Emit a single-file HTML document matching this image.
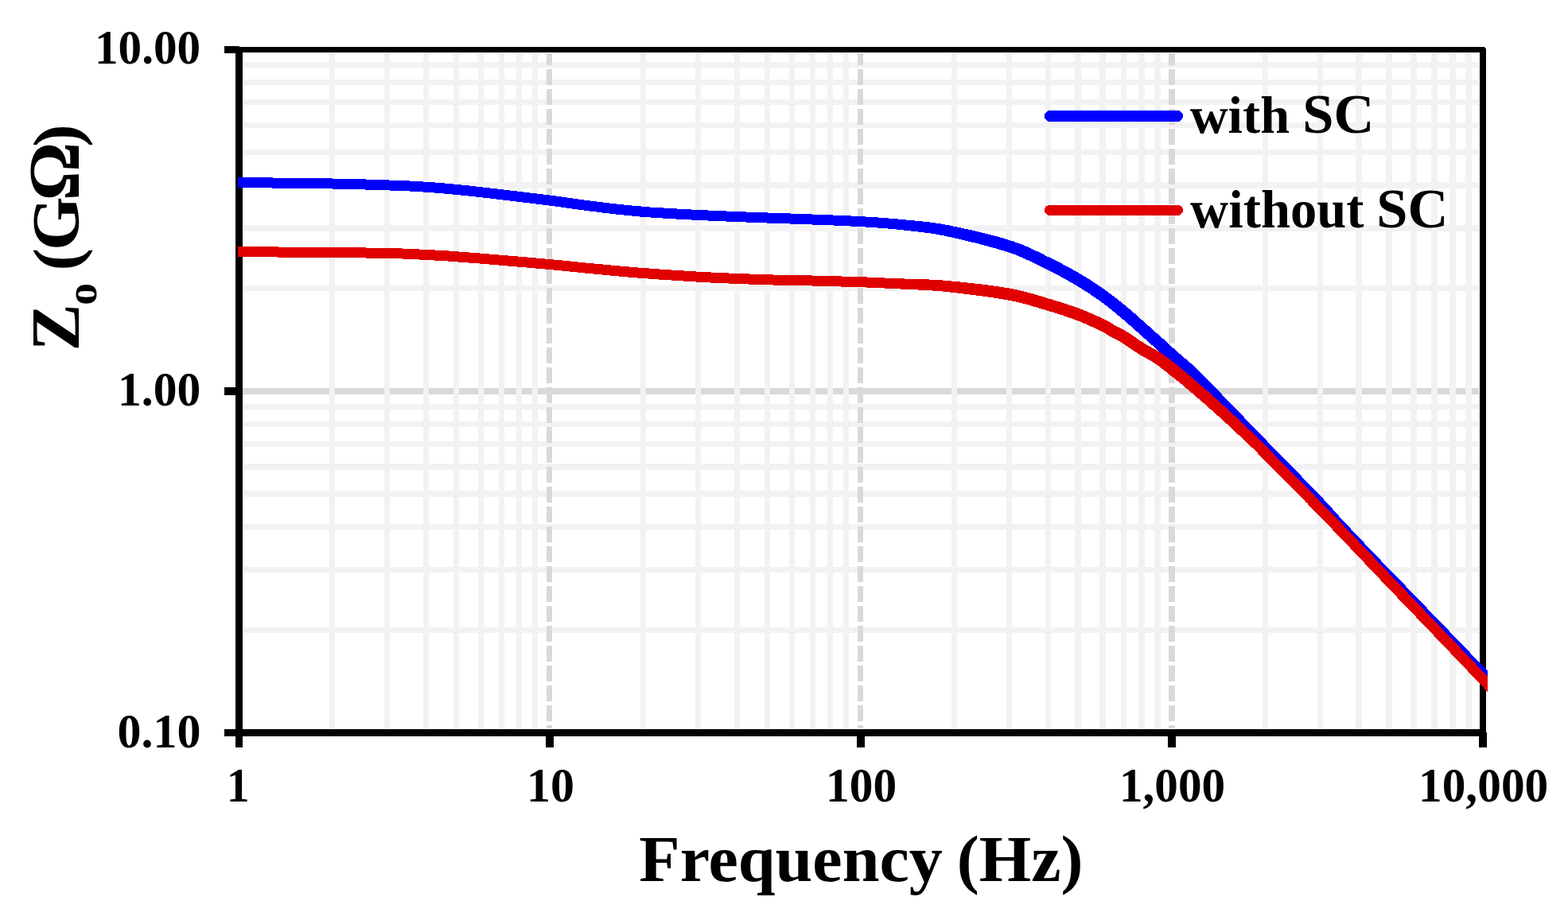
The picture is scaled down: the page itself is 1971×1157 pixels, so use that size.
<!DOCTYPE html>
<html lang="en"><head><meta charset="utf-8"><title>Z0 vs Frequency</title>
<style>
html,body{margin:0;padding:0;background:#fff;}
body{width:1971px;height:1157px;overflow:hidden;}
svg{display:block;}
text{font-family:"Liberation Serif","DejaVu Serif",serif;font-weight:bold;fill:#000;}
.tick{font-size:58.33px;}
.title{font-size:83.33px;}
.leg{font-size:66.67px;}
.crisp{shape-rendering:crispEdges;}
</style></head><body>
<svg width="1971" height="1157" viewBox="0 0 1971 1157">
<rect width="1971" height="1157" fill="#fff"/>
<defs><clipPath id="plotclip"><rect x="299" y="60" width="1571" height="866"/></clipPath></defs>
<g class="crisp">
<rect x="305" y="488" width="1554" height="8" fill="#d9d9d9"/>
<g fill="#f2f2f2">
<rect x="306" y="359" width="1553" height="7"/>
<rect x="306" y="283" width="1553" height="8"/>
<rect x="306" y="229" width="1553" height="8"/>
<rect x="306" y="188" width="1553" height="7"/>
<rect x="306" y="154" width="1553" height="7"/>
<rect x="306" y="125" width="1553" height="7"/>
<rect x="306" y="100" width="1553" height="7"/>
<rect x="306" y="78" width="1553" height="7"/>
<rect x="306" y="789" width="1553" height="7"/>
<rect x="306" y="713" width="1553" height="7"/>
<rect x="306" y="659" width="1553" height="7"/>
<rect x="306" y="617" width="1553" height="8"/>
<rect x="306" y="583" width="1553" height="8"/>
<rect x="306" y="555" width="1553" height="7"/>
<rect x="306" y="530" width="1553" height="7"/>
<rect x="306" y="508" width="1553" height="7"/>
<rect x="414" y="67" width="7" height="849"/>
<rect x="483" y="67" width="7" height="849"/>
<rect x="532" y="67" width="7" height="849"/>
<rect x="570" y="67" width="7" height="849"/>
<rect x="601" y="67" width="7" height="849"/>
<rect x="627" y="67" width="7" height="849"/>
<rect x="649" y="67" width="7" height="849"/>
<rect x="669" y="67" width="7" height="849"/>
<rect x="805" y="67" width="7" height="849"/>
<rect x="874" y="67" width="7" height="849"/>
<rect x="923" y="67" width="7" height="849"/>
<rect x="961" y="67" width="7" height="849"/>
<rect x="992" y="67" width="7" height="849"/>
<rect x="1018" y="67" width="7" height="849"/>
<rect x="1040" y="67" width="7" height="849"/>
<rect x="1060" y="67" width="7" height="849"/>
<rect x="1196" y="67" width="7" height="849"/>
<rect x="1265" y="67" width="7" height="849"/>
<rect x="1314" y="67" width="7" height="849"/>
<rect x="1351" y="67" width="8" height="849"/>
<rect x="1382" y="67" width="8" height="849"/>
<rect x="1409" y="67" width="7" height="849"/>
<rect x="1431" y="67" width="8" height="849"/>
<rect x="1451" y="67" width="8" height="849"/>
<rect x="1587" y="67" width="7" height="849"/>
<rect x="1656" y="67" width="7" height="849"/>
<rect x="1704" y="67" width="8" height="849"/>
<rect x="1742" y="67" width="8" height="849"/>
<rect x="1773" y="67" width="8" height="849"/>
<rect x="1799" y="67" width="8" height="849"/>
<rect x="1822" y="67" width="8" height="849"/>
<rect x="1842" y="67" width="8" height="849"/>
</g>
<g fill="#d9d9d9">
<rect x="687" y="67" width="7" height="15"/>
<rect x="687" y="87" width="7" height="20"/>
<rect x="687" y="112" width="7" height="20"/>
<rect x="687" y="137" width="7" height="20"/>
<rect x="687" y="162" width="7" height="20"/>
<rect x="687" y="187" width="7" height="20"/>
<rect x="687" y="212" width="7" height="20"/>
<rect x="687" y="237" width="7" height="20"/>
<rect x="687" y="262" width="7" height="20"/>
<rect x="687" y="287" width="7" height="20"/>
<rect x="687" y="312" width="7" height="20"/>
<rect x="687" y="337" width="7" height="20"/>
<rect x="687" y="362" width="7" height="20"/>
<rect x="687" y="387" width="7" height="20"/>
<rect x="687" y="412" width="7" height="20"/>
<rect x="687" y="437" width="7" height="20"/>
<rect x="687" y="462" width="7" height="20"/>
<rect x="687" y="487" width="7" height="20"/>
<rect x="687" y="512" width="7" height="20"/>
<rect x="687" y="537" width="7" height="20"/>
<rect x="687" y="562" width="7" height="20"/>
<rect x="687" y="587" width="7" height="20"/>
<rect x="687" y="612" width="7" height="20"/>
<rect x="687" y="637" width="7" height="20"/>
<rect x="687" y="662" width="7" height="20"/>
<rect x="687" y="687" width="7" height="20"/>
<rect x="687" y="712" width="7" height="20"/>
<rect x="687" y="737" width="7" height="20"/>
<rect x="687" y="762" width="7" height="20"/>
<rect x="687" y="787" width="7" height="20"/>
<rect x="687" y="812" width="7" height="20"/>
<rect x="687" y="837" width="7" height="20"/>
<rect x="687" y="862" width="7" height="20"/>
<rect x="687" y="887" width="7" height="20"/>
<rect x="687" y="912" width="7" height="4"/>
<rect x="1078" y="67" width="7" height="15"/>
<rect x="1078" y="87" width="7" height="20"/>
<rect x="1078" y="112" width="7" height="20"/>
<rect x="1078" y="137" width="7" height="20"/>
<rect x="1078" y="162" width="7" height="20"/>
<rect x="1078" y="187" width="7" height="20"/>
<rect x="1078" y="212" width="7" height="20"/>
<rect x="1078" y="237" width="7" height="20"/>
<rect x="1078" y="262" width="7" height="20"/>
<rect x="1078" y="287" width="7" height="20"/>
<rect x="1078" y="312" width="7" height="20"/>
<rect x="1078" y="337" width="7" height="20"/>
<rect x="1078" y="362" width="7" height="20"/>
<rect x="1078" y="387" width="7" height="20"/>
<rect x="1078" y="412" width="7" height="20"/>
<rect x="1078" y="437" width="7" height="20"/>
<rect x="1078" y="462" width="7" height="20"/>
<rect x="1078" y="487" width="7" height="20"/>
<rect x="1078" y="512" width="7" height="20"/>
<rect x="1078" y="537" width="7" height="20"/>
<rect x="1078" y="562" width="7" height="20"/>
<rect x="1078" y="587" width="7" height="20"/>
<rect x="1078" y="612" width="7" height="20"/>
<rect x="1078" y="637" width="7" height="20"/>
<rect x="1078" y="662" width="7" height="20"/>
<rect x="1078" y="687" width="7" height="20"/>
<rect x="1078" y="712" width="7" height="20"/>
<rect x="1078" y="737" width="7" height="20"/>
<rect x="1078" y="762" width="7" height="20"/>
<rect x="1078" y="787" width="7" height="20"/>
<rect x="1078" y="812" width="7" height="20"/>
<rect x="1078" y="837" width="7" height="20"/>
<rect x="1078" y="862" width="7" height="20"/>
<rect x="1078" y="887" width="7" height="20"/>
<rect x="1078" y="912" width="7" height="4"/>
<rect x="1469" y="67" width="8" height="15"/>
<rect x="1469" y="87" width="8" height="20"/>
<rect x="1469" y="112" width="8" height="20"/>
<rect x="1469" y="137" width="8" height="20"/>
<rect x="1469" y="162" width="8" height="20"/>
<rect x="1469" y="187" width="8" height="20"/>
<rect x="1469" y="212" width="8" height="20"/>
<rect x="1469" y="237" width="8" height="20"/>
<rect x="1469" y="262" width="8" height="20"/>
<rect x="1469" y="287" width="8" height="20"/>
<rect x="1469" y="312" width="8" height="20"/>
<rect x="1469" y="337" width="8" height="20"/>
<rect x="1469" y="362" width="8" height="20"/>
<rect x="1469" y="387" width="8" height="20"/>
<rect x="1469" y="412" width="8" height="20"/>
<rect x="1469" y="437" width="8" height="20"/>
<rect x="1469" y="462" width="8" height="20"/>
<rect x="1469" y="487" width="8" height="20"/>
<rect x="1469" y="512" width="8" height="20"/>
<rect x="1469" y="537" width="8" height="20"/>
<rect x="1469" y="562" width="8" height="20"/>
<rect x="1469" y="587" width="8" height="20"/>
<rect x="1469" y="612" width="8" height="20"/>
<rect x="1469" y="637" width="8" height="20"/>
<rect x="1469" y="662" width="8" height="20"/>
<rect x="1469" y="687" width="8" height="20"/>
<rect x="1469" y="712" width="8" height="20"/>
<rect x="1469" y="737" width="8" height="20"/>
<rect x="1469" y="762" width="8" height="20"/>
<rect x="1469" y="787" width="8" height="20"/>
<rect x="1469" y="812" width="8" height="20"/>
<rect x="1469" y="837" width="8" height="20"/>
<rect x="1469" y="862" width="8" height="20"/>
<rect x="1469" y="887" width="8" height="20"/>
<rect x="1469" y="912" width="8" height="4"/>
</g>
<g fill="#000">
<rect x="296" y="59" width="9" height="881"/>
<rect x="282" y="917" width="1586" height="9"/>
<rect x="296" y="59" width="1572" height="7"/>
<rect x="1860" y="59" width="8" height="867"/>
<rect x="282" y="58" width="19" height="9"/>
<rect x="282" y="487" width="14" height="10"/>
<rect x="686" y="926" width="10" height="14"/>
<rect x="1077" y="926" width="10" height="14"/>
<rect x="1468" y="926" width="10" height="14"/>
<rect x="1859" y="921" width="10" height="19"/>
</g>
</g>
<polygon points="1865.7,58.5 1868.5,58.5 1868.5,62.2" fill="#fff"/>
<g clip-path="url(#plotclip)" shape-rendering="crispEdges">
<path d="M286.9 235.9 L286.7 235.9 L285.9 222.8 L288.6 222.9 L299.1 223.0 L300.8 223.0 L302.8 223.0 L304.8 223.1 L307.1 223.1 L309.4 223.1 L311.9 223.1 L314.6 223.2 L317.3 223.2 L320.2 223.2 L323.1 223.3 L326.2 223.3 L329.3 223.3 L332.5 223.4 L335.8 223.4 L339.2 223.4 L342.6 223.5 L346.0 223.5 L349.5 223.6 L353.0 223.6 L356.5 223.6 L360.1 223.7 L363.6 223.7 L367.1 223.8 L370.7 223.8 L374.2 223.8 L377.6 223.9 L381.1 223.9 L384.5 224.0 L387.8 224.0 L391.1 224.1 L394.3 224.1 L397.4 224.1 L400.5 224.2 L403.4 224.2 L406.3 224.3 L409.0 224.3 L411.6 224.4 L414.1 224.4 L418.1 224.5 L421.9 224.5 L425.6 224.6 L429.1 224.7 L432.6 224.8 L436.0 224.9 L439.2 224.9 L442.4 225.0 L445.5 225.1 L448.5 225.2 L451.4 225.3 L454.3 225.3 L457.1 225.4 L459.9 225.5 L462.6 225.6 L465.3 225.7 L467.9 225.8 L470.6 225.9 L473.2 225.9 L475.8 226.0 L478.4 226.1 L480.9 226.2 L483.5 226.3 L487.2 226.4 L490.7 226.6 L494.0 226.7 L497.3 226.8 L500.4 226.9 L503.5 227.0 L506.5 227.1 L509.5 227.3 L512.4 227.4 L515.4 227.5 L518.3 227.7 L521.3 227.8 L524.3 228.0 L527.5 228.2 L530.6 228.4 L533.9 228.6 L536.9 228.8 L539.7 229.0 L542.5 229.2 L545.3 229.4 L548.0 229.6 L550.7 229.8 L553.5 230.1 L556.3 230.3 L559.2 230.5 L562.1 230.8 L565.1 231.1 L568.3 231.4 L571.6 231.7 L575.0 232.0 L578.6 232.4 L582.4 232.8 L586.4 233.2 L590.7 233.6 L593.1 233.9 L595.7 234.2 L598.4 234.5 L601.2 234.8 L604.0 235.1 L607.0 235.5 L610.0 235.8 L613.1 236.2 L616.3 236.5 L619.5 236.9 L622.8 237.3 L626.1 237.7 L629.5 238.1 L632.8 238.5 L636.2 238.9 L639.6 239.3 L643.0 239.7 L646.4 240.1 L649.8 240.5 L653.1 240.9 L656.5 241.3 L659.8 241.7 L663.0 242.1 L666.2 242.5 L669.3 242.8 L672.4 243.2 L675.4 243.6 L678.3 243.9 L681.1 244.3 L683.8 244.6 L686.4 244.9 L688.9 245.3 L691.3 245.6 L695.6 246.1 L699.6 246.6 L703.2 247.1 L706.6 247.6 L709.8 248.0 L712.7 248.4 L715.5 248.8 L718.1 249.2 L720.7 249.6 L723.3 250.0 L725.8 250.3 L728.3 250.7 L731.0 251.1 L733.7 251.5 L736.6 251.8 L739.7 252.2 L743.0 252.6 L745.7 253.0 L748.4 253.3 L751.2 253.6 L753.9 254.0 L756.7 254.3 L759.6 254.7 L762.4 255.0 L765.3 255.4 L768.2 255.7 L771.2 256.0 L774.2 256.4 L777.2 256.7 L780.2 257.1 L783.3 257.4 L786.4 257.7 L789.5 258.0 L792.7 258.4 L795.8 258.7 L799.1 259.0 L802.3 259.3 L805.6 259.5 L808.9 259.8 L811.7 260.0 L814.5 260.2 L817.3 260.5 L820.2 260.7 L823.1 260.9 L826.1 261.1 L829.0 261.3 L832.1 261.4 L835.1 261.6 L838.2 261.8 L841.3 262.0 L844.4 262.2 L847.5 262.3 L850.6 262.5 L853.7 262.7 L856.8 262.8 L860.0 263.0 L863.1 263.2 L866.2 263.3 L869.3 263.5 L872.4 263.6 L875.4 263.8 L878.5 263.9 L881.5 264.1 L884.5 264.2 L887.4 264.4 L890.3 264.5 L893.6 264.7 L896.8 264.8 L900.1 265.0 L903.3 265.1 L906.6 265.3 L909.8 265.4 L913.1 265.5 L916.3 265.7 L919.6 265.8 L922.8 265.9 L926.0 266.1 L929.1 266.2 L932.3 266.3 L935.4 266.4 L938.5 266.5 L941.6 266.6 L944.6 266.8 L947.6 266.9 L950.6 267.0 L953.5 267.1 L956.4 267.2 L959.3 267.3 L962.1 267.4 L964.8 267.5 L968.4 267.6 L971.9 267.8 L975.2 267.9 L978.5 268.0 L981.7 268.1 L984.8 268.2 L987.8 268.3 L990.9 268.4 L993.8 268.5 L996.8 268.6 L999.8 268.7 L1002.7 268.8 L1005.7 268.9 L1008.7 269.0 L1011.7 269.1 L1014.8 269.3 L1017.9 269.4 L1021.2 269.5 L1024.1 269.6 L1027.1 269.7 L1030.1 269.8 L1033.1 270.0 L1036.2 270.1 L1039.3 270.2 L1042.4 270.3 L1045.5 270.4 L1048.6 270.6 L1051.7 270.7 L1054.8 270.8 L1057.9 270.9 L1061.0 271.1 L1064.1 271.2 L1067.2 271.3 L1070.2 271.5 L1073.2 271.6 L1076.1 271.8 L1079.0 271.9 L1081.9 272.1 L1085.2 272.3 L1088.4 272.5 L1091.5 272.7 L1094.6 272.9 L1097.7 273.1 L1100.7 273.3 L1103.8 273.5 L1106.7 273.7 L1109.7 273.9 L1112.7 274.2 L1115.7 274.4 L1118.7 274.7 L1121.7 274.9 L1124.8 275.2 L1127.9 275.4 L1131.0 275.7 L1134.2 276.0 L1137.2 276.3 L1140.1 276.6 L1143.1 276.9 L1146.0 277.1 L1148.9 277.4 L1151.9 277.7 L1154.8 277.9 L1157.8 278.2 L1160.9 278.6 L1164.0 278.9 L1167.1 279.3 L1170.3 279.7 L1173.6 280.1 L1177.0 280.6 L1180.4 281.2 L1184.0 281.7 L1187.6 282.4 L1191.4 283.1 L1194.1 283.6 L1196.8 284.2 L1199.7 284.8 L1202.7 285.4 L1205.7 286.0 L1208.8 286.7 L1211.9 287.4 L1215.1 288.1 L1218.3 288.8 L1221.6 289.5 L1224.8 290.3 L1228.1 291.0 L1231.4 291.8 L1234.7 292.6 L1238.0 293.4 L1241.2 294.2 L1244.5 295.1 L1247.7 295.9 L1250.8 296.7 L1253.9 297.5 L1256.9 298.4 L1259.8 299.2 L1262.7 300.1 L1265.5 300.9 L1268.1 301.7 L1270.7 302.6 L1274.5 303.8 L1278.2 305.1 L1281.6 306.4 L1285.0 307.7 L1288.2 309.1 L1291.4 310.4 L1294.4 311.7 L1297.3 313.1 L1300.1 314.4 L1302.9 315.7 L1305.5 317.0 L1308.2 318.3 L1310.7 319.6 L1313.3 320.9 L1315.8 322.2 L1318.3 323.4 L1320.8 324.6 L1323.9 326.1 L1326.9 327.6 L1329.8 329.1 L1332.7 330.6 L1335.5 332.0 L1338.3 333.5 L1341.0 334.9 L1343.7 336.3 L1346.3 337.8 L1348.9 339.2 L1351.4 340.7 L1353.9 342.1 L1356.4 343.5 L1358.9 345.0 L1361.8 346.7 L1364.6 348.4 L1367.4 350.1 L1370.1 351.8 L1372.8 353.5 L1375.4 355.2 L1378.0 357.0 L1380.5 358.7 L1383.0 360.4 L1385.5 362.1 L1388.0 363.8 L1390.4 365.6 L1393.1 367.5 L1395.7 369.4 L1398.2 371.3 L1400.8 373.3 L1403.2 375.2 L1405.7 377.2 L1408.1 379.1 L1410.5 381.0 L1412.8 382.9 L1415.1 384.8 L1417.3 386.7 L1419.8 388.7 L1422.2 390.8 L1424.6 392.9 L1427.0 394.9 L1429.2 396.9 L1431.5 398.9 L1433.7 400.9 L1435.9 402.8 L1438.0 404.7 L1440.1 406.6 L1442.8 408.9 L1445.4 411.2 L1447.9 413.5 L1450.4 415.7 L1452.9 418.0 L1455.4 420.1 L1457.8 422.3 L1460.2 424.5 L1462.5 426.5 L1464.7 428.5 L1466.8 430.4 L1468.8 432.3 L1471.0 434.3 L1473.2 436.3 L1475.6 438.5 L1478.2 440.8 L1480.1 442.4 L1481.9 444.1 L1483.9 445.8 L1485.9 447.5 L1488.0 449.3 L1490.2 451.1 L1492.5 453.1 L1494.9 455.2 L1497.4 457.4 L1500.0 459.7 L1502.6 462.2 L1505.4 464.8 L1507.3 466.7 L1509.3 468.7 L1511.4 470.7 L1513.5 472.8 L1515.6 475.0 L1517.8 477.3 L1520.1 479.5 L1522.3 481.9 L1524.6 484.2 L1526.9 486.6 L1529.2 489.0 L1531.5 491.4 L1533.8 493.8 L1536.2 496.2 L1538.5 498.6 L1540.7 501.0 L1543.0 503.3 L1545.2 505.6 L1547.3 507.8 L1549.4 509.9 L1551.5 512.1 L1553.6 514.3 L1555.7 516.4 L1557.8 518.6 L1559.9 520.8 L1562.0 523.0 L1564.1 525.1 L1566.2 527.3 L1568.3 529.5 L1570.4 531.7 L1572.5 533.9 L1574.6 536.0 L1576.7 538.2 L1578.8 540.4 L1580.9 542.6 L1583.0 544.7 L1585.1 546.9 L1587.2 549.1 L1589.3 551.2 L1591.5 553.4 L1593.6 555.6 L1595.7 557.8 L1597.9 560.0 L1600.0 562.2 L1602.1 564.4 L1604.3 566.6 L1606.4 568.8 L1608.5 571.0 L1610.7 573.1 L1612.8 575.3 L1614.9 577.4 L1617.0 579.5 L1619.0 581.7 L1621.1 583.8 L1623.1 585.8 L1625.1 587.9 L1627.4 590.2 L1629.6 592.4 L1631.8 594.7 L1634.0 596.9 L1636.2 599.2 L1638.3 601.4 L1640.5 603.6 L1642.7 605.8 L1644.8 607.9 L1646.9 610.1 L1649.0 612.2 L1651.0 614.4 L1653.1 616.5 L1655.1 618.5 L1657.0 620.6 L1659.0 622.6 L1660.9 624.7 L1663.3 627.2 L1665.5 629.6 L1667.6 631.9 L1669.7 634.1 L1671.6 636.3 L1673.5 638.4 L1675.5 640.6 L1677.4 642.8 L1679.5 645.1 L1681.6 647.5 L1683.9 650.0 L1686.4 652.7 L1689.1 655.6 L1690.8 657.4 L1692.6 659.3 L1694.5 661.3 L1696.4 663.3 L1698.4 665.4 L1700.4 667.6 L1702.5 669.8 L1704.6 672.0 L1706.7 674.3 L1708.9 676.5 L1711.1 678.8 L1713.3 681.2 L1715.5 683.5 L1717.7 685.8 L1719.9 688.2 L1722.1 690.5 L1724.3 692.8 L1726.5 695.1 L1728.7 697.3 L1730.8 699.6 L1732.9 701.8 L1735.0 703.9 L1737.0 706.1 L1739.0 708.1 L1740.9 710.1 L1742.7 712.0 L1744.4 713.8 L1746.1 715.5 L1747.8 717.3 L1749.5 719.0 L1751.2 720.7 L1752.9 722.5 L1754.7 724.3 L1756.5 726.2 L1758.4 728.2 L1760.4 730.3 L1762.6 732.5 L1764.8 734.8 L1767.3 737.3 L1769.9 740.0 L1772.6 742.9 L1775.6 746.0 L1778.9 749.3 L1780.4 750.9 L1782.1 752.6 L1783.8 754.4 L1785.6 756.3 L1787.5 758.3 L1789.4 760.3 L1791.4 762.4 L1793.5 764.5 L1795.6 766.7 L1797.8 769.0 L1800.0 771.3 L1802.3 773.6 L1804.6 776.0 L1806.9 778.4 L1809.3 780.9 L1811.7 783.4 L1814.1 785.9 L1816.6 788.4 L1819.0 791.0 L1821.5 793.5 L1823.9 796.1 L1826.4 798.6 L1828.9 801.2 L1831.3 803.7 L1833.7 806.3 L1836.2 808.8 L1838.6 811.3 L1841.0 813.7 L1843.3 816.2 L1845.6 818.6 L1847.9 820.9 L1850.2 823.3 L1852.3 825.6 L1854.5 827.8 L1856.6 830.0 L1858.6 832.1 L1860.6 834.1 L1862.5 836.1 L1864.3 838.0 L1866.1 839.8 L1867.8 841.6 L1869.4 843.2 L1870.9 844.8 L1872.3 846.3 L1873.6 847.6 L1874.9 848.9 L1882.8 857.2 L1886.3 860.8 L1887.0 861.5 L1876.9 870.4 L1886.9 861.4 L1877.1 870.7 L1886.6 861.1 L1877.2 870.8 L1876.6 870.1 L1873.1 866.6 L1865.1 858.3 L1863.9 857.0 L1862.6 855.6 L1861.2 854.2 L1859.7 852.6 L1858.1 850.9 L1856.4 849.2 L1854.6 847.4 L1852.8 845.5 L1850.9 843.5 L1848.9 841.4 L1846.9 839.3 L1844.8 837.1 L1842.6 834.9 L1840.4 832.6 L1838.2 830.3 L1835.9 827.9 L1833.6 825.5 L1831.2 823.1 L1828.9 820.6 L1826.5 818.1 L1824.0 815.6 L1821.6 813.1 L1819.1 810.5 L1816.7 808.0 L1814.2 805.4 L1811.7 802.9 L1809.3 800.3 L1806.8 797.8 L1804.4 795.3 L1802.0 792.8 L1799.6 790.3 L1797.2 787.8 L1794.9 785.4 L1792.6 783.0 L1790.3 780.6 L1788.1 778.3 L1785.9 776.1 L1783.8 773.9 L1781.7 771.7 L1779.7 769.6 L1777.8 767.6 L1775.9 765.7 L1774.1 763.8 L1772.4 762.0 L1770.7 760.3 L1769.1 758.7 L1765.9 755.4 L1762.9 752.3 L1760.2 749.4 L1757.6 746.7 L1755.1 744.2 L1752.9 741.9 L1750.7 739.7 L1748.7 737.6 L1746.8 735.6 L1745.0 733.7 L1743.2 731.9 L1741.5 730.1 L1739.8 728.4 L1738.1 726.6 L1736.4 724.9 L1734.7 723.1 L1733.0 721.3 L1731.2 719.4 L1729.3 717.5 L1727.3 715.4 L1725.2 713.3 L1723.2 711.1 L1721.1 708.9 L1718.9 706.7 L1716.8 704.4 L1714.6 702.1 L1712.4 699.8 L1710.1 697.5 L1707.9 695.1 L1705.7 692.8 L1703.5 690.5 L1701.3 688.1 L1699.1 685.8 L1696.9 683.5 L1694.8 681.3 L1692.7 679.0 L1690.6 676.9 L1688.6 674.7 L1686.6 672.6 L1684.7 670.6 L1682.8 668.6 L1681.0 666.7 L1679.3 664.8 L1676.5 661.9 L1674.0 659.1 L1671.6 656.5 L1669.5 654.1 L1667.4 651.8 L1665.4 649.6 L1663.5 647.5 L1661.6 645.3 L1659.6 643.2 L1657.7 641.0 L1655.6 638.8 L1653.4 636.4 L1651.1 633.9 L1649.2 632.0 L1647.3 629.9 L1645.3 627.9 L1643.4 625.8 L1641.3 623.8 L1639.3 621.7 L1637.2 619.5 L1635.1 617.4 L1633.0 615.2 L1630.9 613.0 L1628.7 610.8 L1626.5 608.6 L1624.3 606.4 L1622.1 604.1 L1619.9 601.9 L1617.7 599.6 L1615.5 597.3 L1613.5 595.3 L1611.4 593.2 L1609.4 591.1 L1607.3 589.0 L1605.2 586.9 L1603.1 584.7 L1601.0 582.6 L1598.9 580.4 L1596.8 578.2 L1594.6 576.1 L1592.5 573.9 L1590.3 571.7 L1588.2 569.5 L1586.0 567.4 L1583.8 565.2 L1581.7 563.0 L1579.5 560.8 L1577.4 558.7 L1575.3 556.5 L1573.2 554.4 L1571.0 552.2 L1568.9 550.0 L1566.8 547.9 L1564.7 545.7 L1562.5 543.6 L1560.4 541.4 L1558.3 539.2 L1556.2 537.1 L1554.0 534.9 L1551.9 532.8 L1549.8 530.6 L1547.7 528.5 L1545.6 526.3 L1543.5 524.2 L1541.3 522.0 L1539.2 519.9 L1537.1 517.7 L1535.0 515.6 L1532.7 513.3 L1530.5 511.0 L1528.2 508.6 L1525.8 506.3 L1523.5 503.9 L1521.2 501.5 L1518.8 499.1 L1516.5 496.7 L1514.2 494.4 L1511.9 492.1 L1509.6 489.8 L1507.4 487.5 L1505.2 485.4 L1503.1 483.2 L1501.0 481.2 L1499.0 479.2 L1497.0 477.3 L1495.2 475.6 L1492.5 473.0 L1489.9 470.7 L1487.5 468.5 L1485.1 466.4 L1482.8 464.5 L1480.5 462.6 L1478.4 460.8 L1476.3 459.0 L1474.2 457.3 L1472.2 455.6 L1470.1 453.9 L1468.2 452.2 L1465.5 449.8 L1463.0 447.6 L1460.7 445.5 L1458.6 443.5 L1456.5 441.6 L1454.4 439.7 L1452.3 437.8 L1450.0 435.7 L1447.6 433.6 L1445.2 431.5 L1442.8 429.3 L1440.3 427.1 L1437.8 424.9 L1435.3 422.6 L1432.7 420.3 L1430.1 418.0 L1427.9 416.1 L1425.8 414.1 L1423.6 412.2 L1421.4 410.2 L1419.2 408.3 L1416.9 406.3 L1414.7 404.3 L1412.4 402.3 L1410.0 400.3 L1407.7 398.3 L1405.4 396.5 L1403.2 394.6 L1400.9 392.8 L1398.6 390.9 L1396.2 389.0 L1393.9 387.1 L1391.5 385.2 L1389.1 383.4 L1386.6 381.5 L1384.1 379.7 L1381.6 377.8 L1379.2 376.2 L1376.9 374.5 L1374.5 372.8 L1372.0 371.2 L1369.6 369.5 L1367.1 367.9 L1364.6 366.2 L1362.0 364.6 L1359.4 362.9 L1356.7 361.3 L1354.0 359.7 L1351.3 358.0 L1348.9 356.6 L1346.4 355.2 L1344.0 353.8 L1341.5 352.4 L1339.0 351.0 L1336.4 349.6 L1333.9 348.2 L1331.2 346.8 L1328.6 345.4 L1325.8 344.0 L1323.0 342.5 L1320.2 341.1 L1317.2 339.6 L1314.2 338.2 L1311.6 336.9 L1309.1 335.6 L1306.5 334.4 L1304.0 333.1 L1301.4 331.8 L1298.9 330.5 L1296.3 329.2 L1293.6 328.0 L1290.9 326.7 L1288.2 325.4 L1285.4 324.2 L1282.4 322.9 L1279.4 321.7 L1276.3 320.4 L1273.0 319.2 L1269.6 318.0 L1266.1 316.8 L1263.6 316.1 L1261.1 315.3 L1258.4 314.5 L1255.6 313.6 L1252.8 312.8 L1249.8 312.0 L1246.8 311.2 L1243.8 310.3 L1240.7 309.4 L1237.5 308.6 L1234.3 307.8 L1231.1 306.9 L1227.9 306.1 L1224.7 305.3 L1221.4 304.5 L1218.2 303.7 L1215.0 302.9 L1211.8 302.1 L1208.7 301.4 L1205.6 300.7 L1202.6 300.0 L1199.6 299.3 L1196.7 298.7 L1193.9 298.0 L1191.2 297.5 L1188.6 296.9 L1185.0 296.2 L1181.5 295.5 L1178.1 294.9 L1174.8 294.3 L1171.6 293.8 L1168.4 293.3 L1165.3 292.9 L1162.3 292.5 L1159.3 292.1 L1156.4 291.7 L1153.4 291.4 L1150.5 291.1 L1147.6 290.8 L1144.7 290.4 L1141.8 290.1 L1138.8 289.8 L1135.8 289.5 L1132.8 289.2 L1129.7 288.8 L1126.6 288.5 L1123.6 288.2 L1120.6 287.9 L1117.6 287.6 L1114.6 287.4 L1111.7 287.1 L1108.7 286.9 L1105.8 286.7 L1102.8 286.5 L1099.9 286.3 L1096.9 286.1 L1093.8 285.9 L1090.7 285.7 L1087.6 285.5 L1084.4 285.3 L1081.1 285.1 L1078.3 284.9 L1075.4 284.8 L1072.5 284.6 L1069.5 284.5 L1066.6 284.3 L1063.5 284.2 L1060.5 284.1 L1057.4 283.9 L1054.3 283.8 L1051.2 283.7 L1048.1 283.5 L1045.0 283.4 L1041.9 283.3 L1038.8 283.2 L1035.7 283.1 L1032.6 283.0 L1029.6 282.8 L1026.6 282.7 L1023.6 282.6 L1020.6 282.5 L1017.4 282.4 L1014.3 282.3 L1011.2 282.1 L1008.2 282.0 L1005.2 281.9 L1002.3 281.8 L999.3 281.7 L996.4 281.6 L993.4 281.5 L990.4 281.4 L987.4 281.3 L984.3 281.2 L981.2 281.1 L978.0 281.0 L974.8 280.9 L971.4 280.8 L967.9 280.6 L964.4 280.5 L961.6 280.4 L958.8 280.3 L956.0 280.2 L953.1 280.1 L950.1 280.0 L947.2 279.9 L944.2 279.7 L941.1 279.6 L938.0 279.5 L934.9 279.4 L931.8 279.3 L928.6 279.2 L925.5 279.0 L922.3 278.9 L919.0 278.8 L915.8 278.7 L912.6 278.5 L909.3 278.4 L906.0 278.2 L902.8 278.1 L899.5 278.0 L896.2 277.8 L892.9 277.7 L889.7 277.5 L886.8 277.3 L883.8 277.2 L880.8 277.1 L877.8 276.9 L874.8 276.8 L871.7 276.6 L868.6 276.5 L865.5 276.3 L862.4 276.1 L859.3 276.0 L856.2 275.8 L853.0 275.7 L849.9 275.5 L846.8 275.3 L843.6 275.1 L840.5 275.0 L837.4 274.8 L834.3 274.6 L831.3 274.4 L828.2 274.2 L825.2 274.0 L822.2 273.8 L819.3 273.6 L816.4 273.4 L813.5 273.2 L810.7 273.0 L807.9 272.8 L804.5 272.5 L801.2 272.2 L797.9 271.9 L794.6 271.6 L791.4 271.3 L788.2 271.0 L785.0 270.7 L781.9 270.3 L778.8 270.0 L775.7 269.7 L772.7 269.3 L769.7 269.0 L766.7 268.6 L763.8 268.3 L760.9 267.9 L758.0 267.6 L755.2 267.2 L752.4 266.9 L749.6 266.5 L746.8 266.2 L744.1 265.9 L741.4 265.6 L738.0 265.1 L734.9 264.7 L732.0 264.3 L729.2 264.0 L726.5 263.6 L723.9 263.2 L721.4 262.8 L718.8 262.5 L716.2 262.1 L713.6 261.7 L710.8 261.3 L707.9 260.9 L704.8 260.4 L701.5 260.0 L697.9 259.5 L694.0 259.0 L689.7 258.4 L687.3 258.2 L684.8 257.8 L682.2 257.5 L679.5 257.2 L676.7 256.8 L673.8 256.5 L670.8 256.1 L667.8 255.7 L664.6 255.4 L661.4 255.0 L658.2 254.6 L654.9 254.2 L651.6 253.8 L648.2 253.4 L644.9 253.0 L641.5 252.6 L638.1 252.2 L634.7 251.8 L631.3 251.4 L627.9 251.0 L624.6 250.6 L621.3 250.2 L618.0 249.8 L614.8 249.4 L611.6 249.1 L608.5 248.7 L605.5 248.4 L602.6 248.0 L599.7 247.7 L596.9 247.4 L594.3 247.1 L591.7 246.8 L589.3 246.6 L585.1 246.1 L581.1 245.7 L577.3 245.3 L573.7 244.9 L570.3 244.6 L567.1 244.3 L563.9 244.0 L560.9 243.7 L558.0 243.5 L555.2 243.2 L552.5 243.0 L549.7 242.8 L547.0 242.6 L544.3 242.4 L541.6 242.2 L538.8 242.0 L536.0 241.8 L533.1 241.6 L529.8 241.4 L526.7 241.2 L523.6 241.0 L520.6 240.8 L517.7 240.7 L514.7 240.5 L511.8 240.4 L508.9 240.3 L506.0 240.1 L503.0 240.0 L499.9 239.9 L496.8 239.8 L493.6 239.7 L490.2 239.5 L486.7 239.4 L483.1 239.3 L480.5 239.2 L477.9 239.1 L475.3 239.0 L472.7 238.9 L470.1 238.8 L467.5 238.8 L464.9 238.7 L462.2 238.6 L459.5 238.5 L456.7 238.4 L453.9 238.3 L451.1 238.2 L448.1 238.2 L445.1 238.1 L442.1 238.0 L438.9 237.9 L435.7 237.8 L432.3 237.8 L428.9 237.7 L425.3 237.6 L421.6 237.5 L417.8 237.5 L413.9 237.4 L411.4 237.4 L408.8 237.3 L406.1 237.3 L403.2 237.2 L400.3 237.2 L397.2 237.1 L394.1 237.1 L390.9 237.0 L387.6 237.0 L384.3 237.0 L380.9 236.9 L377.5 236.9 L374.0 236.8 L370.5 236.8 L367.0 236.8 L363.4 236.7 L359.9 236.7 L356.4 236.6 L352.8 236.6 L349.3 236.6 L345.9 236.5 L342.4 236.5 L339.0 236.4 L335.7 236.4 L332.4 236.4 L329.2 236.3 L326.1 236.3 L323.0 236.3 L320.0 236.2 L317.2 236.2 L314.4 236.2 L311.8 236.1 L309.3 236.1 L306.9 236.1 L304.7 236.1 L302.6 236.0 L300.7 236.0 L298.9 236.0 L288.4 235.9 L285.7 235.8 L286.8 222.9 L287.1 222.9Z" fill="#0000ff"/>
<path d="M286.9 322.9 L286.7 322.9 L285.9 309.9 L288.5 309.9 L299.1 310.0 L300.8 310.0 L302.7 310.0 L304.8 310.1 L307.1 310.1 L309.4 310.1 L311.9 310.1 L314.6 310.1 L317.3 310.2 L320.2 310.2 L323.1 310.2 L326.2 310.3 L329.3 310.3 L332.5 310.3 L335.8 310.4 L339.2 310.4 L342.6 310.4 L346.0 310.4 L349.5 310.5 L353.0 310.5 L356.5 310.5 L360.0 310.6 L363.6 310.6 L367.1 310.6 L370.6 310.7 L374.1 310.7 L377.6 310.7 L381.0 310.8 L384.4 310.8 L387.8 310.8 L391.0 310.9 L394.3 310.9 L397.4 310.9 L400.4 311.0 L403.4 311.0 L406.2 311.0 L409.0 311.1 L411.6 311.1 L414.1 311.1 L418.0 311.1 L421.8 311.2 L425.5 311.2 L429.1 311.2 L432.5 311.3 L435.9 311.3 L439.1 311.3 L442.3 311.3 L445.4 311.3 L448.4 311.4 L451.3 311.4 L454.2 311.4 L457.0 311.4 L459.8 311.5 L462.5 311.5 L465.2 311.5 L467.8 311.5 L470.4 311.6 L473.1 311.6 L475.7 311.6 L478.2 311.7 L480.8 311.7 L483.4 311.8 L487.1 311.9 L490.6 312.0 L494.0 312.1 L497.3 312.2 L500.4 312.3 L503.5 312.4 L506.5 312.5 L509.5 312.6 L512.4 312.7 L515.4 312.9 L518.3 313.0 L521.3 313.2 L524.3 313.3 L527.4 313.5 L530.6 313.6 L533.8 313.8 L536.8 314.0 L539.6 314.1 L542.4 314.3 L545.2 314.4 L547.9 314.6 L550.6 314.7 L553.4 314.9 L556.2 315.1 L559.0 315.3 L562.0 315.4 L565.0 315.6 L568.1 315.9 L571.4 316.1 L574.8 316.3 L578.4 316.6 L582.2 316.9 L586.3 317.2 L590.5 317.5 L592.9 317.7 L595.5 317.9 L598.2 318.1 L601.0 318.3 L603.8 318.6 L606.8 318.8 L609.8 319.1 L612.9 319.3 L616.1 319.6 L619.3 319.9 L622.6 320.1 L625.9 320.4 L629.2 320.7 L632.6 321.0 L636.0 321.3 L639.4 321.5 L642.8 321.8 L646.2 322.1 L649.6 322.4 L652.9 322.7 L656.3 323.0 L659.5 323.3 L662.8 323.5 L666.0 323.8 L669.1 324.1 L672.2 324.4 L675.2 324.6 L678.1 324.9 L680.9 325.1 L683.6 325.4 L686.2 325.6 L688.7 325.8 L691.1 326.0 L695.4 326.4 L699.3 326.8 L703.0 327.1 L706.3 327.4 L709.5 327.8 L712.4 328.1 L715.2 328.3 L717.9 328.6 L720.5 328.9 L723.0 329.1 L725.5 329.4 L728.1 329.7 L730.7 330.0 L733.5 330.2 L736.4 330.5 L739.5 330.8 L742.8 331.1 L745.5 331.4 L748.2 331.6 L751.0 331.9 L753.8 332.2 L756.6 332.4 L759.4 332.7 L762.3 333.0 L765.2 333.2 L768.1 333.5 L771.0 333.8 L774.0 334.1 L777.0 334.3 L780.1 334.6 L783.2 334.9 L786.3 335.2 L789.4 335.4 L792.6 335.7 L795.8 336.0 L799.0 336.2 L802.3 336.5 L805.6 336.8 L808.9 337.0 L811.6 337.2 L814.5 337.4 L817.3 337.6 L820.2 337.9 L823.1 338.1 L826.1 338.3 L829.1 338.5 L832.1 338.7 L835.2 338.9 L838.2 339.1 L841.3 339.3 L844.4 339.5 L847.5 339.7 L850.7 339.9 L853.8 340.1 L856.9 340.3 L860.0 340.5 L863.1 340.7 L866.3 340.9 L869.3 341.1 L872.4 341.3 L875.5 341.5 L878.5 341.7 L881.5 341.8 L884.5 342.0 L887.4 342.2 L890.3 342.3 L893.6 342.5 L896.8 342.6 L900.1 342.8 L903.4 343.0 L906.6 343.1 L909.9 343.3 L913.1 343.4 L916.3 343.5 L919.6 343.7 L922.8 343.8 L926.0 343.9 L929.1 344.1 L932.3 344.2 L935.4 344.3 L938.5 344.4 L941.6 344.5 L944.6 344.6 L947.6 344.7 L950.6 344.8 L953.5 344.9 L956.4 345.0 L959.3 345.1 L962.1 345.2 L964.8 345.3 L968.4 345.4 L971.8 345.5 L975.2 345.6 L978.4 345.7 L981.6 345.8 L984.7 345.8 L987.7 345.9 L990.8 345.9 L993.7 346.0 L996.7 346.0 L999.6 346.1 L1002.6 346.1 L1005.6 346.2 L1008.6 346.2 L1011.6 346.3 L1014.7 346.4 L1017.8 346.4 L1021.1 346.5 L1024.0 346.6 L1027.0 346.6 L1030.0 346.7 L1033.0 346.8 L1036.1 346.9 L1039.2 347.0 L1042.3 347.0 L1045.4 347.1 L1048.5 347.2 L1051.6 347.3 L1054.8 347.4 L1057.9 347.5 L1060.9 347.5 L1064.0 347.6 L1067.1 347.7 L1070.1 347.8 L1073.0 347.9 L1076.0 348.0 L1078.9 348.1 L1081.7 348.2 L1085.0 348.3 L1088.2 348.4 L1091.4 348.6 L1094.5 348.7 L1097.6 348.8 L1100.6 348.9 L1103.6 349.1 L1106.6 349.2 L1109.5 349.3 L1112.5 349.5 L1115.5 349.6 L1118.4 349.8 L1121.5 349.9 L1124.5 350.0 L1127.5 350.1 L1130.7 350.3 L1133.8 350.4 L1136.8 350.5 L1139.7 350.6 L1142.7 350.7 L1145.6 350.8 L1148.5 350.9 L1151.4 350.9 L1154.4 351.0 L1157.4 351.1 L1160.4 351.2 L1163.4 351.3 L1166.6 351.4 L1169.8 351.6 L1173.0 351.7 L1176.4 351.9 L1179.8 352.1 L1183.3 352.4 L1186.9 352.7 L1190.7 353.0 L1193.3 353.2 L1196.1 353.5 L1199.0 353.8 L1201.9 354.0 L1204.9 354.3 L1208.0 354.7 L1211.1 355.0 L1214.3 355.3 L1217.5 355.7 L1220.7 356.0 L1224.0 356.4 L1227.3 356.8 L1230.6 357.1 L1233.9 357.5 L1237.1 357.9 L1240.4 358.3 L1243.6 358.7 L1246.8 359.2 L1249.9 359.6 L1253.0 360.0 L1256.0 360.5 L1258.9 360.9 L1261.7 361.4 L1264.5 361.8 L1267.2 362.3 L1269.8 362.7 L1273.7 363.5 L1277.6 364.2 L1281.2 365.0 L1284.8 365.9 L1288.1 366.7 L1291.4 367.5 L1294.5 368.4 L1297.6 369.2 L1300.5 370.1 L1303.4 370.9 L1306.2 371.8 L1308.9 372.6 L1311.6 373.5 L1314.3 374.3 L1317.0 375.1 L1319.6 375.9 L1322.9 376.8 L1326.2 377.8 L1329.3 378.8 L1332.4 379.7 L1335.4 380.6 L1338.3 381.6 L1341.2 382.5 L1344.1 383.5 L1346.9 384.4 L1349.6 385.4 L1352.4 386.3 L1355.1 387.3 L1357.8 388.3 L1361.0 389.6 L1364.2 390.9 L1367.4 392.2 L1370.5 393.6 L1373.6 394.9 L1376.6 396.2 L1379.5 397.5 L1382.2 398.8 L1384.7 400.0 L1387.1 401.1 L1389.4 402.2 L1393.5 404.3 L1396.8 406.2 L1399.4 407.8 L1401.5 409.2 L1403.6 410.5 L1406.3 411.9 L1409.0 413.1 L1412.3 414.8 L1416.4 417.1 L1418.7 418.5 L1421.1 420.1 L1423.6 421.8 L1426.3 423.6 L1428.9 425.4 L1431.6 427.3 L1434.3 429.0 L1436.8 430.7 L1439.1 432.2 L1442.0 433.9 L1444.8 435.5 L1447.6 437.1 L1450.5 438.6 L1453.4 440.3 L1456.3 442.0 L1459.3 443.9 L1462.0 445.7 L1464.6 447.6 L1467.1 449.4 L1469.6 451.3 L1472.1 453.3 L1474.9 455.5 L1477.9 458.0 L1480.0 459.7 L1482.1 461.4 L1484.3 463.2 L1486.6 465.0 L1488.9 467.0 L1491.4 469.0 L1493.9 471.1 L1496.5 473.3 L1499.3 475.6 L1502.1 478.1 L1505.1 480.7 L1507.1 482.4 L1509.2 484.3 L1511.4 486.2 L1513.6 488.1 L1515.9 490.1 L1518.2 492.2 L1520.6 494.3 L1523.0 496.5 L1525.4 498.6 L1527.9 500.8 L1530.3 503.0 L1532.8 505.3 L1535.3 507.5 L1537.7 509.7 L1540.1 511.9 L1542.5 514.1 L1544.9 516.3 L1547.2 518.4 L1549.5 520.6 L1551.9 522.9 L1554.4 525.2 L1556.9 527.5 L1559.4 529.9 L1561.9 532.3 L1564.4 534.6 L1566.8 537.0 L1569.2 539.3 L1571.6 541.5 L1573.9 543.7 L1576.0 545.8 L1578.1 547.8 L1580.0 549.7 L1581.8 551.4 L1583.5 553.0 L1585.0 554.5 L1588.9 558.3 L1590.2 559.7 L1591.1 560.8 L1594.9 564.8 L1596.3 566.2 L1597.9 567.8 L1599.6 569.5 L1601.4 571.4 L1603.3 573.4 L1605.4 575.4 L1607.5 577.6 L1609.7 579.8 L1612.0 582.1 L1614.4 584.5 L1616.8 587.0 L1619.3 589.5 L1621.8 592.1 L1624.4 594.6 L1627.0 597.3 L1629.6 599.9 L1632.2 602.6 L1634.8 605.3 L1636.7 607.2 L1638.7 609.3 L1640.7 611.3 L1642.8 613.4 L1644.9 615.6 L1647.0 617.8 L1649.2 620.0 L1651.4 622.3 L1653.6 624.6 L1655.9 626.9 L1658.2 629.2 L1660.4 631.5 L1662.7 633.9 L1665.0 636.2 L1667.3 638.6 L1669.6 640.9 L1671.8 643.3 L1674.1 645.6 L1676.3 647.9 L1678.5 650.2 L1680.7 652.4 L1682.8 654.7 L1685.0 656.9 L1687.0 659.0 L1689.1 661.1 L1691.3 663.5 L1693.6 665.8 L1695.8 668.1 L1698.0 670.4 L1700.1 672.7 L1702.3 674.9 L1704.4 677.2 L1706.5 679.4 L1708.6 681.6 L1710.6 683.8 L1712.7 685.9 L1714.7 688.1 L1716.8 690.2 L1718.8 692.4 L1720.8 694.5 L1722.9 696.7 L1724.9 698.8 L1726.9 700.9 L1728.9 703.0 L1730.9 705.2 L1733.0 707.3 L1735.0 709.4 L1737.1 711.6 L1739.0 713.7 L1740.9 715.6 L1742.7 717.5 L1744.4 719.4 L1746.1 721.1 L1747.8 722.9 L1749.5 724.6 L1751.2 726.4 L1752.9 728.2 L1754.7 730.1 L1756.5 732.0 L1758.4 734.0 L1760.5 736.1 L1762.6 738.3 L1764.9 740.7 L1767.3 743.2 L1769.9 745.9 L1772.7 748.8 L1775.7 752.0 L1778.9 755.3 L1780.4 757.0 L1782.1 758.7 L1783.8 760.5 L1785.6 762.4 L1787.5 764.4 L1789.5 766.4 L1791.5 768.5 L1793.5 770.7 L1795.7 772.9 L1797.8 775.2 L1800.1 777.5 L1802.3 779.9 L1804.6 782.3 L1807.0 784.7 L1809.3 787.2 L1811.7 789.7 L1814.1 792.2 L1816.6 794.8 L1819.0 797.3 L1821.5 799.9 L1823.9 802.5 L1826.4 805.0 L1828.9 807.6 L1831.3 810.2 L1833.8 812.7 L1836.2 815.3 L1838.6 817.8 L1841.0 820.3 L1843.3 822.7 L1845.6 825.2 L1847.9 827.5 L1850.2 829.9 L1852.4 832.2 L1854.5 834.4 L1856.6 836.6 L1858.6 838.7 L1860.6 840.8 L1862.5 842.8 L1864.4 844.7 L1866.1 846.6 L1867.8 848.3 L1869.4 850.0 L1870.9 851.6 L1872.3 853.1 L1873.7 854.5 L1874.9 855.7 L1882.8 864.1 L1886.3 867.7 L1887.0 868.4 L1876.8 877.3 L1886.9 868.3 L1877.1 877.6 L1886.6 868.0 L1877.2 877.7 L1876.5 877.0 L1873.1 873.4 L1865.1 865.1 L1863.9 863.8 L1862.6 862.4 L1861.2 860.9 L1859.6 859.3 L1858.0 857.7 L1856.4 855.9 L1854.6 854.1 L1852.8 852.1 L1850.9 850.1 L1848.9 848.1 L1846.8 846.0 L1844.8 843.8 L1842.6 841.5 L1840.4 839.2 L1838.2 836.9 L1835.9 834.5 L1833.6 832.1 L1831.2 829.6 L1828.8 827.1 L1826.4 824.6 L1824.0 822.1 L1821.6 819.5 L1819.1 816.9 L1816.7 814.4 L1814.2 811.8 L1811.7 809.2 L1809.3 806.7 L1806.8 804.1 L1804.4 801.5 L1802.0 799.0 L1799.6 796.5 L1797.2 794.0 L1794.9 791.6 L1792.6 789.2 L1790.3 786.8 L1788.1 784.5 L1785.9 782.2 L1783.8 780.0 L1781.7 777.8 L1779.7 775.7 L1777.7 773.7 L1775.9 771.7 L1774.1 769.8 L1772.3 768.0 L1770.7 766.3 L1769.1 764.7 L1765.9 761.3 L1762.9 758.2 L1760.1 755.3 L1757.5 752.6 L1755.1 750.0 L1752.8 747.7 L1750.7 745.4 L1748.7 743.3 L1746.8 741.3 L1744.9 739.4 L1743.2 737.5 L1741.4 735.7 L1739.8 734.0 L1738.1 732.2 L1736.4 730.5 L1734.7 728.7 L1732.9 726.9 L1731.1 725.0 L1729.3 723.0 L1727.3 720.9 L1725.2 718.8 L1723.2 716.6 L1721.1 714.5 L1719.1 712.3 L1717.1 710.2 L1715.1 708.1 L1713.0 705.9 L1711.0 703.8 L1709.0 701.7 L1707.0 699.5 L1704.9 697.4 L1702.9 695.2 L1700.8 693.0 L1698.8 690.9 L1696.7 688.7 L1694.6 686.5 L1692.5 684.2 L1690.3 682.0 L1688.2 679.7 L1686.0 677.5 L1683.8 675.1 L1681.6 672.8 L1679.3 670.5 L1677.3 668.4 L1675.2 666.2 L1673.1 664.0 L1671.0 661.8 L1668.8 659.6 L1666.6 657.3 L1664.4 655.0 L1662.1 652.7 L1659.9 650.3 L1657.6 648.0 L1655.3 645.6 L1653.0 643.3 L1650.8 640.9 L1648.5 638.6 L1646.2 636.3 L1644.0 634.0 L1641.7 631.7 L1639.5 629.4 L1637.4 627.2 L1635.2 625.0 L1633.1 622.9 L1631.1 620.7 L1629.1 618.7 L1627.1 616.7 L1625.2 614.7 L1622.6 612.1 L1620.0 609.4 L1617.4 606.7 L1614.8 604.1 L1612.2 601.5 L1609.7 599.0 L1607.2 596.5 L1604.8 594.0 L1602.4 591.6 L1600.1 589.3 L1597.9 587.1 L1595.8 584.9 L1593.7 582.9 L1591.8 580.9 L1589.9 579.1 L1588.2 577.4 L1586.6 575.8 L1585.1 574.2 L1581.1 570.2 L1580.0 568.8 L1579.2 568.0 L1575.4 564.3 L1574.0 563.0 L1572.3 561.4 L1570.5 559.7 L1568.5 557.8 L1566.5 555.9 L1564.3 553.8 L1562.0 551.6 L1559.6 549.4 L1557.2 547.2 L1554.7 544.8 L1552.3 542.5 L1549.7 540.2 L1547.2 537.8 L1544.7 535.5 L1542.3 533.3 L1539.9 531.1 L1537.5 528.9 L1535.3 526.9 L1532.9 524.7 L1530.5 522.6 L1528.1 520.4 L1525.6 518.2 L1523.2 516.0 L1520.7 513.8 L1518.2 511.7 L1515.8 509.5 L1513.4 507.4 L1510.9 505.3 L1508.6 503.2 L1506.2 501.2 L1504.0 499.2 L1501.7 497.3 L1499.6 495.4 L1497.5 493.6 L1495.5 491.9 L1492.5 489.4 L1489.7 487.0 L1487.0 484.7 L1484.4 482.6 L1481.8 480.5 L1479.4 478.6 L1477.1 476.7 L1474.9 474.9 L1472.7 473.2 L1470.5 471.5 L1468.5 469.8 L1465.4 467.4 L1462.7 465.2 L1460.2 463.3 L1457.9 461.5 L1455.7 459.9 L1453.4 458.2 L1450.9 456.5 L1448.4 454.9 L1445.8 453.4 L1443.1 451.9 L1440.3 450.3 L1437.3 448.7 L1434.3 447.0 L1431.1 445.0 L1428.5 443.4 L1425.9 441.6 L1423.1 439.8 L1420.4 438.0 L1417.7 436.1 L1415.1 434.4 L1412.7 432.7 L1410.5 431.3 L1408.6 430.1 L1405.1 428.1 L1402.4 426.7 L1399.6 425.4 L1396.4 423.7 L1393.6 422.1 L1391.3 420.6 L1389.0 419.2 L1386.3 417.7 L1382.6 415.8 L1380.6 414.8 L1378.3 413.7 L1375.8 412.5 L1373.1 411.3 L1370.4 410.0 L1367.5 408.7 L1364.5 407.4 L1361.5 406.1 L1358.5 404.9 L1355.5 403.6 L1352.4 402.5 L1349.8 401.5 L1347.2 400.5 L1344.6 399.6 L1341.9 398.7 L1339.2 397.8 L1336.5 396.8 L1333.7 395.9 L1330.8 395.0 L1327.9 394.1 L1324.9 393.2 L1321.8 392.2 L1318.7 391.3 L1315.4 390.3 L1312.6 389.5 L1309.9 388.7 L1307.2 387.9 L1304.5 387.0 L1301.8 386.2 L1299.0 385.4 L1296.3 384.5 L1293.4 383.7 L1290.5 382.9 L1287.5 382.1 L1284.5 381.3 L1281.3 380.5 L1277.9 379.7 L1274.5 378.9 L1270.9 378.2 L1267.0 377.5 L1264.6 377.1 L1262.0 376.6 L1259.4 376.2 L1256.6 375.7 L1253.7 375.3 L1250.8 374.8 L1247.8 374.4 L1244.7 373.9 L1241.6 373.5 L1238.4 373.0 L1235.2 372.6 L1232.0 372.1 L1228.7 371.7 L1225.5 371.3 L1222.3 370.9 L1219.0 370.5 L1215.8 370.1 L1212.7 369.7 L1209.5 369.3 L1206.4 368.9 L1203.4 368.6 L1200.4 368.2 L1197.5 367.9 L1194.7 367.6 L1191.9 367.3 L1189.3 367.0 L1185.7 366.6 L1182.2 366.3 L1178.7 366.0 L1175.4 365.8 L1172.2 365.5 L1169.0 365.3 L1165.9 365.1 L1162.8 365.0 L1159.8 364.8 L1156.8 364.7 L1153.9 364.5 L1151.0 364.4 L1148.0 364.3 L1145.1 364.2 L1142.2 364.0 L1139.2 363.9 L1136.2 363.8 L1133.2 363.6 L1130.0 363.4 L1126.9 363.2 L1123.8 363.1 L1120.8 362.9 L1117.8 362.7 L1114.9 362.6 L1111.9 362.5 L1108.9 362.3 L1106.0 362.2 L1103.0 362.1 L1100.0 361.9 L1097.0 361.8 L1094.0 361.7 L1090.9 361.6 L1087.7 361.4 L1084.5 361.3 L1081.3 361.2 L1078.4 361.1 L1075.6 361.0 L1072.6 360.9 L1069.7 360.8 L1066.7 360.7 L1063.6 360.6 L1060.6 360.5 L1057.5 360.5 L1054.4 360.4 L1051.3 360.3 L1048.2 360.2 L1045.1 360.1 L1042.0 360.0 L1038.9 360.0 L1035.8 359.9 L1032.7 359.8 L1029.7 359.7 L1026.7 359.6 L1023.7 359.6 L1020.7 359.5 L1017.5 359.4 L1014.4 359.4 L1011.4 359.3 L1008.3 359.2 L1005.3 359.2 L1002.4 359.1 L999.4 359.1 L996.5 359.0 L993.5 359.0 L990.5 358.9 L987.5 358.9 L984.4 358.8 L981.3 358.7 L978.1 358.7 L974.8 358.6 L971.5 358.5 L968.0 358.4 L964.4 358.3 L961.6 358.2 L958.8 358.1 L956.0 358.0 L953.1 357.9 L950.2 357.8 L947.2 357.7 L944.2 357.6 L941.1 357.5 L938.0 357.4 L934.9 357.3 L931.8 357.2 L928.6 357.1 L925.4 356.9 L922.2 356.8 L919.0 356.7 L915.8 356.5 L912.5 356.4 L909.3 356.2 L906.0 356.1 L902.7 355.9 L899.5 355.8 L896.2 355.6 L892.9 355.5 L889.7 355.3 L886.7 355.1 L883.8 355.0 L880.8 354.8 L877.8 354.6 L874.7 354.5 L871.7 354.3 L868.6 354.1 L865.5 353.9 L862.3 353.7 L859.2 353.5 L856.1 353.3 L853.0 353.1 L849.8 352.9 L846.7 352.7 L843.6 352.5 L840.5 352.3 L837.4 352.1 L834.3 351.9 L831.2 351.7 L828.2 351.5 L825.2 351.2 L822.2 351.0 L819.3 350.8 L816.4 350.6 L813.5 350.4 L810.7 350.2 L807.9 350.0 L804.6 349.7 L801.2 349.5 L797.9 349.2 L794.7 348.9 L791.5 348.7 L788.3 348.4 L785.1 348.1 L782.0 347.8 L778.9 347.6 L775.9 347.3 L772.8 347.0 L769.8 346.7 L766.9 346.5 L763.9 346.2 L761.0 345.9 L758.2 345.6 L755.3 345.4 L752.5 345.1 L749.8 344.8 L747.0 344.6 L744.3 344.3 L741.6 344.1 L738.2 343.8 L735.1 343.5 L732.2 343.2 L729.4 342.9 L726.8 342.6 L724.2 342.3 L721.6 342.1 L719.1 341.8 L716.5 341.5 L713.9 341.3 L711.1 341.0 L708.2 340.7 L705.1 340.4 L701.7 340.1 L698.1 339.7 L694.2 339.4 L689.9 339.0 L687.6 338.8 L685.1 338.5 L682.5 338.3 L679.7 338.1 L676.9 337.8 L674.0 337.6 L671.1 337.3 L668.0 337.0 L664.9 336.8 L661.7 336.5 L658.4 336.2 L655.1 335.9 L651.8 335.6 L648.5 335.4 L645.1 335.1 L641.7 334.8 L638.3 334.5 L634.9 334.2 L631.5 333.9 L628.2 333.6 L624.8 333.4 L621.5 333.1 L618.2 332.8 L615.0 332.5 L611.9 332.3 L608.8 332.0 L605.7 331.8 L602.8 331.5 L599.9 331.3 L597.1 331.1 L594.5 330.9 L591.9 330.7 L589.5 330.5 L585.3 330.2 L581.3 329.9 L577.5 329.6 L573.9 329.3 L570.5 329.1 L567.2 328.8 L564.1 328.6 L561.1 328.4 L558.2 328.2 L555.4 328.1 L552.6 327.9 L549.9 327.7 L547.1 327.6 L544.4 327.4 L541.7 327.3 L538.9 327.1 L536.1 326.9 L533.2 326.8 L529.9 326.6 L526.7 326.5 L523.6 326.3 L520.6 326.1 L517.7 326.0 L514.8 325.9 L511.8 325.7 L508.9 325.6 L506.0 325.5 L503.0 325.4 L500.0 325.3 L496.8 325.2 L493.6 325.1 L490.3 325.0 L486.8 324.9 L483.2 324.8 L480.6 324.7 L478.0 324.7 L475.4 324.6 L472.9 324.6 L470.3 324.6 L467.7 324.5 L465.0 324.5 L462.3 324.5 L459.6 324.5 L456.9 324.4 L454.1 324.4 L451.2 324.4 L448.3 324.4 L445.3 324.3 L442.2 324.3 L439.0 324.3 L435.8 324.3 L432.4 324.3 L429.0 324.2 L425.4 324.2 L421.7 324.2 L417.9 324.1 L413.9 324.1 L411.4 324.1 L408.8 324.0 L406.1 324.0 L403.2 324.0 L400.3 324.0 L397.3 323.9 L394.1 323.9 L390.9 323.9 L387.6 323.8 L384.3 323.8 L380.9 323.8 L377.5 323.7 L374.0 323.7 L370.5 323.7 L367.0 323.6 L363.5 323.6 L359.9 323.6 L356.4 323.5 L352.9 323.5 L349.4 323.5 L345.9 323.4 L342.4 323.4 L339.0 323.4 L335.7 323.3 L332.4 323.3 L329.2 323.3 L326.1 323.3 L323.0 323.2 L320.0 323.2 L317.2 323.2 L314.4 323.1 L311.8 323.1 L309.3 323.1 L306.9 323.1 L304.7 323.1 L302.6 323.0 L300.7 323.0 L298.9 323.0 L288.4 322.9 L285.8 322.9 L286.8 309.9 L287.1 309.9Z" fill="#e00000"/>
</g>
<g fill="none" stroke-linecap="round" shape-rendering="crispEdges">
<line x1="1320" y1="146" x2="1480" y2="146" stroke="#0000ff" stroke-width="14"/>
<line x1="1319.7" y1="264.4" x2="1480.3" y2="264.4" stroke="#e00000" stroke-width="13.4"/>
</g>
<g>
<text transform="translate(1496.00 166.50) scale(1.0000 1.0000)"><tspan x="-0.36" y="0.00" font-size="66.40">with </tspan><tspan x="141.25" y="0.25" font-size="70.50">SC</tspan></text>
<text transform="translate(1496.00 285.65) scale(1.0000 1.0000)"><tspan x="0.11" y="0.00" font-size="66.60">without </tspan><tspan x="234.20" y="0.25" font-size="70.50">SC</tspan></text>
<text transform="translate(118.97 80.22) scale(1.0151 1.0441)" font-size="58.33">10.00</text>
<text transform="translate(148.04 510.22) scale(1.0218 1.0416)" font-size="58.33">1.00</text>
<text transform="translate(147.49 940.22) scale(1.0273 1.0416)" font-size="58.33">0.10</text>
<text transform="translate(284.68 1008.20) scale(0.9916 1.0505)" font-size="58.33">1</text>
<text transform="translate(662.00 1008.28) scale(1.0297 1.0432)" font-size="58.33">10</text>
<text transform="translate(1038.05 1008.28) scale(1.0197 1.0432)" font-size="58.33">100</text>
<text transform="translate(1406.97 1008.46) scale(1.0151 1.0478)" font-size="58.33">1,000</text>
<text transform="translate(1782.96 1008.46) scale(1.0185 1.0478)" font-size="58.33">10,000</text>
<text transform="translate(803.30 1108.20) scale(1.0095 1.0000)"><tspan x="-0.05" y="0.00" font-size="83.33">Frequency </tspan><tspan x="395.79" y="0.00" font-size="83.33">(Hz)</tspan></text>
<text transform="translate(99.20 440.00) rotate(-90) scale(1.0600 1.0350)"><tspan x="-1.37" y="0.00" font-size="84.00">Z</tspan><tspan x="53.01" y="20.68" font-size="52.50">o </tspan><tspan x="93.86" y="0.00" font-size="80.50">(</tspan><tspan x="117.82" y="0.00" font-size="82.00">G</tspan><tspan x="176.92" y="0.00" font-size="87.00">Ω</tspan><tspan x="240.80" y="0.00" font-size="80.50">)</tspan></text>
</g>
</svg>
</body></html>
